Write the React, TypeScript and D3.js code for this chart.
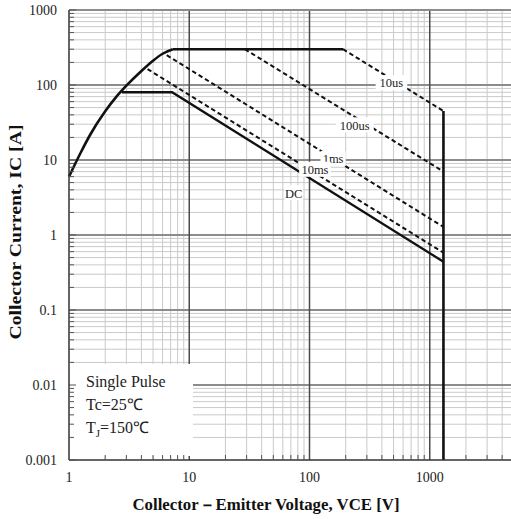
import React from "react";
import * as d3 from "d3";

// Safe operating area of an IGBT (log-log)
const W = 511;
const H = 519;

const xTicks = [1, 10, 100, 1000];
const xTickLabels = ["1", "10", "100", "1000"];
const yTicks = [0.001, 0.01, 0.1, 1, 10, 100, 1000];
const yTickLabels = ["0.001", "0.01", "0.1", "1", "10", "100", "1000"];

// rising limit curve (V, A)
const riseV = [1, 1.25, 1.5, 2, 2.5, 3, 4, 5, 6, 7.3];
const riseI = [6, 12.5, 21.7, 44.5, 71, 98, 154, 211, 261, 300];

// 300 A plateau
const plateauV = [7.3, 190];
const plateauI = [300, 300];

// pulse lines (dashed): start and end points
const pulse10usV = [190, 1300];
const pulse10usI = [300, 45];
const pulse100usV = [29, 1300];
const pulse100usI = [300, 7];
const pulse1msV = [6.5, 1300];
const pulse1msI = [250, 1.28];
const pulse10msV = [4.5, 1300];
const pulse10msI = [163, 0.58];

// DC line (solid)
const dcV = [2.75, 7.2, 1300];
const dcI = [80, 80, 0.44];

// voltage limit
const vLimitV = [1300, 1300];
const vLimitI = [45, 0.001];

const curveLabels = ["10us", "100us", "1ms", "10ms", "DC"];
const curveLabelV = [480, 238, 157, 111, 74];
const curveLabelI = [106, 29, 10.3, 7.4, 3.6];

const legendLines = ["Single Pulse", "Tc=25℃", "=150℃"];

const SERIF = "'Liberation Serif', 'Times New Roman', Times, serif";

export default function App() {
  const x = d3.scaleLog().domain([1, 10000]).range([69, 550]);
  const y = d3.scaleLog().domain([0.001, 1000]).range([460, 10]);
  const [x0, x1] = [69, W + 2];
  const [yTop, yBot] = [10, 460];

  const xMinor: number[] = [];
  for (let d = 1; d < 10000; d *= 10) for (let k = 2; k <= 9; k++) xMinor.push(d * k);
  const yMinor: number[] = [];
  for (let d = 0.001; d < 999; d *= 10) for (let k = 2; k <= 9; k++) yMinor.push(d * k);

  const pts = (vs: number[], is: number[]) => vs.map((v, i) => [x(v), y(is[i])] as [number, number]);
  const straight = d3.line();
  const smooth = d3.line().curve(d3.curveMonotoneX);

  const dashed = { fill: "none", stroke: "#111", strokeWidth: 2, strokeDasharray: "4.5,3" };

  return (
    <div style={{ position: "absolute", left: 0, top: 0 }}>
      <svg width={W} height={H} style={{ display: "block", background: "#fff", fontFamily: SERIF }}>
        {/* minor grid */}
        <g stroke="#cacaca" strokeWidth={1}>
          {xMinor.map((v) => (
            <line key={"xm" + v} x1={x(v)} x2={x(v)} y1={yTop} y2={yBot} />
          ))}
          {yMinor.map((v) => (
            <line key={"ym" + v} x1={x0} x2={x1} y1={y(v)} y2={y(v)} />
          ))}
        </g>
        {/* major grid */}
        <g stroke="#8c8c8c" strokeWidth={2}>
          {yTicks.slice(1).map((v) => (
            <line key={"yM" + v} x1={x0} x2={x1} y1={y(v)} y2={y(v)} />
          ))}
        </g>
        <g stroke="#4a4a4a" strokeWidth={1.5}>
          {[10, 100, 1000].map((v) => (
            <line key={"xM" + v} x1={x(v)} x2={x(v)} y1={yTop} y2={yBot} />
          ))}
        </g>

        {/* limit curves */}
        <path d={smooth(pts(riseV, riseI)) || ""} fill="none" stroke="#111" strokeWidth={2.6} />
        <path d={straight(pts(plateauV, plateauI)) || ""} fill="none" stroke="#111" strokeWidth={2.6} />
        <path d={straight(pts(dcV, dcI)) || ""} fill="none" stroke="#111" strokeWidth={2.3} />
        <path d={straight(pts(pulse10usV, pulse10usI)) || ""} {...dashed} />
        <path d={straight(pts(pulse100usV, pulse100usI)) || ""} {...dashed} />
        <path d={straight(pts(pulse1msV, pulse1msI)) || ""} {...dashed} />
        <path d={straight(pts(pulse10msV, pulse10msI)) || ""} {...dashed} />
        <path d={straight(pts(vLimitV, vLimitI)) || ""} fill="none" stroke="#111" strokeWidth={2.6} />

        {/* curve labels */}
        {curveLabels.map((t, i) => {
          const cx = x(curveLabelV[i]);
          const cy = y(curveLabelI[i]);
          const w = t.length * 6.4 + 6;
          return (
            <g key={t}>
              <rect x={cx - w / 2} y={cy - 8} width={w} height={15} fill="#fff" />
              <text x={cx} y={cy} dy="0.35em" textAnchor="middle" fontSize={12.5} fill="#222">
                {t}
              </text>
            </g>
          );
        })}

        {/* legend box */}
        <rect x={70} y={364} width={123} height={92} fill="#fff" />
        <g fontSize={16} fill="#222">
          <text x={86} y={387}>{legendLines[0]}</text>
          <text x={86} y={410}>{legendLines[1]}</text>
          <text x={86} y={433}>
            T<tspan dy={4} fontSize={11}>J</tspan>
            <tspan dy={-4}>{legendLines[2]}</tspan>
          </text>
        </g>

        {/* axes */}
        <line x1={x0} x2={x1} y1={yTop} y2={yTop} stroke="#8c8c8c" strokeWidth={2} />
        <line x1={x0} x2={x0} y1={yTop} y2={yBot} stroke="#333" strokeWidth={1.5} />
        <line x1={x0} x2={x1} y1={yBot} y2={yBot} stroke="#333" strokeWidth={1.5} />
        <g stroke="#555" strokeWidth={1}>
          {yMinor.map((v) => (
            <line key={"yt" + v} x1={x0} x2={x0 + 5} y1={y(v)} y2={y(v)} />
          ))}
          {yTicks.map((v) => (
            <line key={"yT" + v} x1={x0} x2={x0 + 7} y1={y(v)} y2={y(v)} />
          ))}
          {xMinor.map((v) => (
            <line key={"xt" + v} x1={x(v)} x2={x(v)} y1={yBot} y2={yBot - 5} />
          ))}
        </g>

        {/* tick labels */}
        <g fontSize={14} fill="#222">
          {yTicks.map((v, i) => (
            <text key={"yl" + v} x={57} y={y(v)} dy="0.35em" textAnchor="end">
              {yTickLabels[i]}
            </text>
          ))}
          {xTicks.map((v, i) => (
            <text key={"xl" + v} x={x(v)} y={482} textAnchor="middle">
              {xTickLabels[i]}
            </text>
          ))}
        </g>

        {/* axis titles */}
        <text x={266} y={510} textAnchor="middle" fontSize={16} fontWeight="bold" fill="#111"
          textLength={267} lengthAdjust="spacingAndGlyphs">
          Collector－Emitter Voltage, VCE [V]
        </text>
        <text transform="translate(21,232) rotate(-90)" textAnchor="middle" fontSize={16.5}
          fontWeight="bold" fill="#111" textLength={215} lengthAdjust="spacingAndGlyphs">
          Collector Current, IC [A]
        </text>
      </svg>
    </div>
  );
}
